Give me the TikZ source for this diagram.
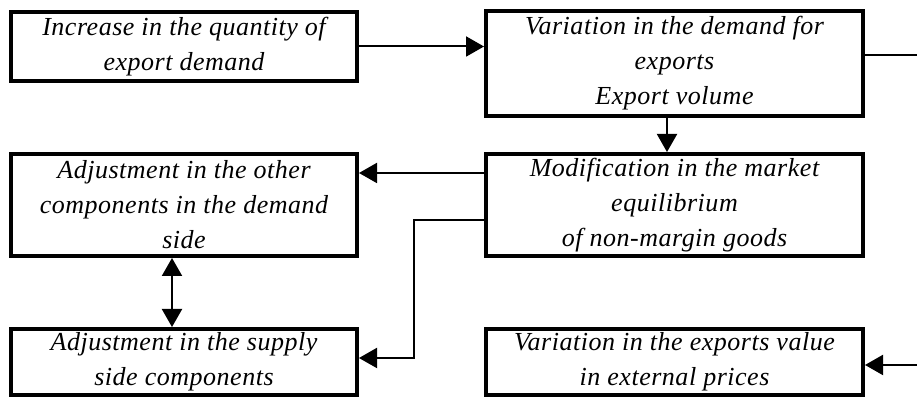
\documentclass[tikz,border=0pt]{standalone}
\usepackage{fontspec}
\setmainfont{Liberation Serif}
\newfontfamily\boxfont[LetterSpace=2.0]{Liberation Serif}
\usetikzlibrary{arrows.meta}
\begin{document}
\begin{tikzpicture}[x=0.5pt,y=-0.5pt,
  box/.style={draw,line width=2pt,align=center,inner sep=0pt,
    font=\boxfont\fontsize{13}{17.5}\selectfont\itshape},
  wide/.style={box,minimum width=188.5pt},
  narrow/.style={box,minimum width=173pt},
  conn/.style={line width=1pt},
  tip/.style={-{Triangle[length=9pt,width=10pt]}}]
\useasboundingbox (0,0) rectangle (917,399);
\node[narrow,minimum height=34.5pt] (b1) at (184,46.5) {Increase in the quantity of\\export demand};
\node[wide,minimum height=52.5pt] (b2) at (674.5,63.5) {Variation in the demand for\\exports\\Export volume};
\node[narrow,minimum height=51pt] (b3) at (184,205) {Adjustment in the other\\components in the demand\\side};
\node[wide,minimum height=51pt] (b4) at (674.5,205) {Modification in the market\\equilibrium\\of non-margin goods};
\node[narrow,minimum height=33pt] (b5) at (184,362) {Adjustment in the supply\\side components};
\node[wide,minimum height=33pt] (b6) at (674.5,362) {Variation in the exports value\\in external prices};
\coordinate (e1) at (917,55);
\coordinate (e2) at (917,365);
\coordinate (k1) at (414,220);
\coordinate (k2) at (414,358);
\draw[conn,tip] (b1.east) -- (b2.west |- b1.east);
\draw[conn] (b2.east |- e1) -- (e1);
\draw[conn,tip] (e2) -- (b6.east |- e2);
\draw[conn,tip] (b2.south -| 667,0) -- (b4.north -| 667,0);
\draw[conn,tip] (b4.west |- 0,173) -- (b3.east |- 0,173);
\draw[conn,tip] (b4.west |- k1) -- (k1) -- (k2) -- (b5.east |- k2);
\draw[conn,{Triangle[length=9pt,width=10pt]}-{Triangle[length=9pt,width=10pt]}] (b3.south -| 172,0) -- (b5.north -| 172,0);
\end{tikzpicture}
\end{document}
